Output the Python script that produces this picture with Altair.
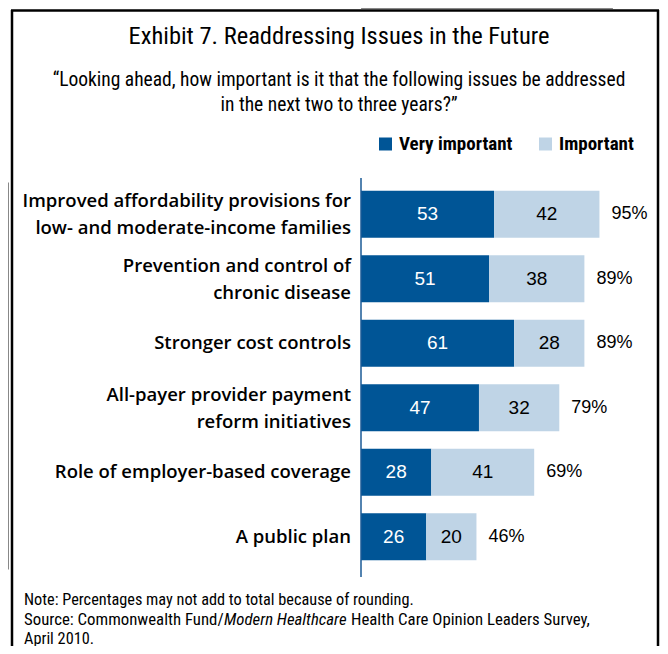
import altair as alt
import pandas as pd

categories = [
    "Improved affordability provisions for\nlow- and moderate-income families",
    "Prevention and control of\nchronic disease",
    "Stronger cost controls",
    "All-payer provider payment\nreform initiatives",
    "Role of employer-based coverage",
    "A public plan",
]
very_important = [53, 51, 61, 47, 28, 26]
important = [42, 38, 28, 32, 41, 20]
totals = [95, 89, 89, 79, 69, 46]
series = ["Very important", "Important"]
colors = ["#005596", "#bfd4e6"]

title_text = "Exhibit 7. Readdressing Issues in the Future"
subtitle_lines = [
    "\u201cLooking ahead, how important is it that the following issues be addressed",
    "in the next two to three years?\u201d",
]
note_lines = [
    "Note: Percentages may not add to total because of rounding.",
    "Source: Commonwealth Fund/",
    "Modern Healthcare",
    "Health Care Opinion Leaders Survey,",
    "April 2010.",
]

NARROW = "Liberation Sans Narrow, Roboto Condensed, DejaVu Sans Condensed, Arial Narrow, sans-serif"
SANS = "Liberation Sans, Arial, sans-serif"
LABF = "Open Sans, Liberation Sans, Arial, sans-serif"

rows = []
for c, v, i in zip(categories, very_important, important):
    rows.append({"cat": c, "series": series[0], "start": 0, "end": v, "val": v,
                 "mid": v / 2, "tc": "white"})
    rows.append({"cat": c, "series": series[1], "start": v, "end": v + i, "val": i,
                 "mid": v + i / 2, "tc": "black"})
bars_df = pd.DataFrame(rows)
tot_df = pd.DataFrame({"cat": categories, "total": totals,
                       "end": [v + i for v, i in zip(very_important, important)],
                       "lab": [f"{t}%" for t in totals],
                       "two": ["\n" in c for c in categories]})

xs = alt.Scale(domain=[0, 100], range=[353, 604])
ys = alt.Scale(domain=categories, range=[174, 561], paddingInner=0, paddingOuter=0)

base = alt.Chart(bars_df)
bars = base.mark_bar(height=47).encode(
    x=alt.X("start:Q", scale=xs, axis=None),
    x2="end:Q",
    y=alt.Y("cat:N", scale=ys, axis=None, sort=categories),
    color=alt.Color("series:N", scale=alt.Scale(domain=series, range=colors), legend=None),
)
vals = base.mark_text(fontSize=19, font=SANS, baseline="middle", align="center").encode(
    x=alt.X("mid:Q", scale=xs),
    y=alt.Y("cat:N", scale=ys, sort=categories),
    text="val:Q",
    color=alt.Color("tc:N", scale=None),
)
tots = alt.Chart(tot_df).mark_text(fontSize=18, font=SANS, baseline="middle", align="left", dx=12).encode(
    x=alt.X("end:Q", scale=xs),
    y=alt.Y("cat:N", scale=ys, sort=categories),
    text="lab:N",
)
lab_one = alt.Chart(tot_df[~tot_df.two]).mark_text(
    fontSize=18.5, font=LABF, fontWeight=600, baseline="middle", align="right",
).encode(
    x=alt.value(343),
    y=alt.Y("cat:N", scale=ys, sort=categories),
    text="cat:N",
)
lab_two = alt.Chart(tot_df[tot_df.two]).mark_text(
    fontSize=18.5, font=LABF, fontWeight=600, baseline="middle", align="right",
    lineBreak="\n", lineHeight=27, dy=-13,
).encode(
    x=alt.value(343),
    y=alt.Y("cat:N", scale=ys, sort=categories),
    text="cat:N",
)
one = pd.DataFrame({"a": [0]})
axis_line = alt.Chart(one).mark_rule(color="#1a5a96", strokeWidth=1.5).encode(
    x=alt.X("a:Q", scale=xs), y=alt.value(170), y2=alt.value(569)
)
fr = dict(color="black", strokeWidth=2.5)
frame_top = alt.Chart(one).mark_rule(**fr).encode(
    x=alt.value(3), x2=alt.value(651), y=alt.value(2.5), y2=alt.value(2.5))
frame_left = alt.Chart(one).mark_rule(**fr).encode(
    x=alt.value(4), x2=alt.value(4), y=alt.value(2), y2=alt.value(640))
frame_right = alt.Chart(one).mark_rule(**fr).encode(
    x=alt.value(650), x2=alt.value(650), y=alt.value(2), y2=alt.value(640))

title = alt.Chart(one).mark_text(fontSize=24.5, font=NARROW, baseline="middle", align="center").encode(
    x=alt.value(331), y=alt.value(29), text=alt.value(title_text)
)
sub1 = alt.Chart(one).mark_text(fontSize=19.5, font=NARROW, baseline="middle", align="center").encode(
    x=alt.value(331), y=alt.value(72), text=alt.value(subtitle_lines[0])
)
sub2 = alt.Chart(one).mark_text(fontSize=19.5, font=NARROW, baseline="middle", align="center").encode(
    x=alt.value(331), y=alt.value(97), text=alt.value(subtitle_lines[1])
)
leg_df = pd.DataFrame({"series": series, "sx": [377.5, 537.5], "tx": [391, 551]})
leg_sq = alt.Chart(leg_df).mark_square(size=169, opacity=1).encode(
    x=alt.X("sx:Q", scale=None), y=alt.value(136),
    color=alt.Color("series:N", scale=alt.Scale(domain=series, range=colors), legend=None),
)
leg_tx = alt.Chart(leg_df).mark_text(fontSize=19, font=NARROW, fontWeight="bold", baseline="middle", align="left").encode(
    x=alt.X("tx:Q", scale=None), y=alt.value(136), text="series:N"
)
note_parts = pd.DataFrame({
    "t": note_lines,
    "x": [16, 16, 216, 343, 16],
    "y": [592, 612, 612, 612, 631],
    "st": ["normal", "normal", "italic", "normal", "normal"],
    "fs": [16.3, 16.8, 16.8, 16.8, 16.3],
})
notes_n = alt.Chart(note_parts[note_parts.st == "normal"]).mark_text(
    font=NARROW, baseline="middle", align="left"
).encode(x=alt.X("x:Q", scale=None), y=alt.Y("y:Q", scale=None), text="t:N",
         size=alt.Size("fs:Q", scale=None))
notes_i = alt.Chart(note_parts[note_parts.st == "italic"]).mark_text(
    font=NARROW, baseline="middle", align="left", fontStyle="italic"
).encode(x=alt.X("x:Q", scale=None), y=alt.Y("y:Q", scale=None), text="t:N",
         size=alt.Size("fs:Q", scale=None))

chart = alt.layer(
    frame_top, frame_left, frame_right, bars, axis_line, vals, tots, lab_one, lab_two,
    title, sub1, sub2, leg_sq, leg_tx, notes_n, notes_i
).resolve_scale(x="independent", y="independent", color="independent", size="independent").properties(
    width=652, height=638, padding=0, autosize="none",
    background="white",
).configure_view(stroke=None)

chart.save("out.html", embed_options={"renderer": "svg", "actions": False})
